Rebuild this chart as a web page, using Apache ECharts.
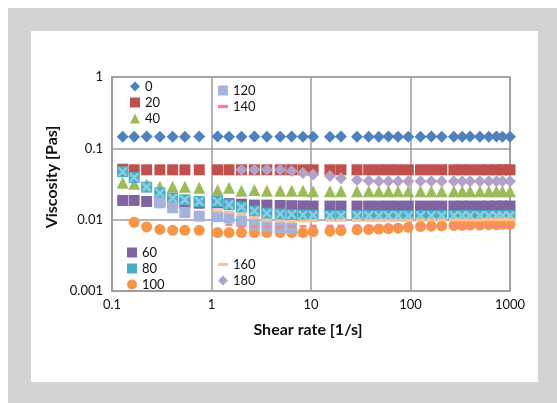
<!DOCTYPE html>
<html>
<head>
<meta charset="utf-8">
<script src="https://cdn.jsdelivr.net/npm/echarts@6/dist/echarts.min.js"></script>
<style>
  html, body { margin: 0; padding: 0; background: #ffffff; }
  #frame { position: absolute; left: 8px; top: 8px; width: 549px; height: 395px; background: #d3d3d5; }
  #inner { position: absolute; left: 31px; top: 31px; width: 507px; height: 351px; background: #ffffff; }
  #chart { position: absolute; left: 0; top: 0; width: 557px; height: 403px; }
</style>
</head>
<body>
<div id="frame"></div>
<div id="inner"></div>
<div id="chart"></div>
<script>
// Shear rate [1/s]
const shear = [0.128, 0.167, 0.223, 0.303, 0.407, 0.54, 0.753,
  1.15, 1.5, 2.0, 2.7, 3.6, 4.9, 6.4, 8.3,
  10.5, 15.5, 20, 29, 38, 48, 60, 75, 95,
  126, 162, 206, 273, 331, 397, 498, 612, 731, 839, 1000];

// Viscosity [Pas] per series (legend names)
const seriesNames = ['0', '20', '40', '60', '80', '100', '120', '140', '160', '180'];

const visc0 = [0.145,0.145,0.146,0.145,0.145,0.145,0.146,
  0.146,0.145,0.145,0.146,0.145,0.145,0.146,0.145,
  0.145,0.145,0.146,0.145,0.145,0.145,0.146,0.145,0.145,
  0.145,0.146,0.145,0.145,0.145,0.146,0.145,0.145,0.146,0.145,0.145];
const visc20 = [0.051,0.050,0.050,0.050,0.050,0.050,0.050,
  0.050,0.050,0.050,0.050,0.050,0.050,0.050,0.050,
  0.050,0.050,0.050,0.050,0.050,0.050,0.050,0.050,0.050,
  0.050,0.050,0.050,0.050,0.050,0.050,0.050,0.050,0.050,0.050,0.050];
const visc40 = [0.033,0.032,0.031,0.029,0.029,0.029,0.028,
  0.026,0.028,0.0255,0.026,0.0255,0.0255,0.0255,0.0255,
  0.025,0.025,0.025,0.025,0.025,0.025,0.025,0.025,0.025,
  0.025,0.025,0.025,0.025,0.025,0.025,0.025,0.025,0.025,0.025,0.025];
const visc60 = [0.0186,0.0186,0.018,0.018,0.0175,0.017,0.017,
  0.0172,0.0168,0.0165,0.016,0.016,0.0158,0.0157,0.0156,
  0.0155,0.0155,0.0155,0.0155,0.0155,0.0155,0.0155,0.0155,0.0155,
  0.0155,0.0155,0.0155,0.0155,0.0155,0.0155,0.0155,0.0155,0.0155,0.0155,0.0155];
const visc80 = [0.047,0.039,0.0286,0.0237,0.020,0.019,0.018,
  0.018,0.0162,0.0150,0.0132,0.0123,0.0120,0.0118,0.0116,
  0.0115,0.0114,0.0114,0.0114,0.0114,0.0114,0.0114,0.0114,0.0114,
  0.0114,0.0114,0.0114,0.0114,0.0114,0.0114,0.0114,0.0114,0.0114,0.0114,0.0114];
const visc100 = [null,0.0092,0.0079,0.0073,0.0071,0.0071,0.0071,
  0.0066,0.0066,0.0066,0.0066,0.0066,0.0066,0.0066,0.0066,
  0.0068,0.0069,0.0070,0.0072,0.0073,0.0074,0.0075,0.0076,0.0078,
  0.0080,0.0081,0.0082,0.0083,0.0083,0.0084,0.0084,0.0085,0.0085,0.0086,0.0086];
const visc120 = [null,null,null,0.0172,0.0147,0.0126,0.0112,
  0.0110,0.0106,0.0095,0.0085,0.0080,0.0078,0.0076,null,
  null,null,null,null,null,null,null,null,null,
  null,null,null,null,null,null,null,null,null,null,null];
const visc140 = [null,null,null,null,null,null,null,
  null,0.0085,0.0080,0.0080,0.0079,0.0079,0.0080,0.0081,
  0.0082,0.0082,0.0082,0.0082,0.0081,0.0081,0.0082,0.0082,0.0082,
  0.0082,0.0081,0.0081,0.0082,0.0082,0.0081,0.0081,0.0082,0.0082,0.0081,0.0081];
const visc160 = [null,null,null,null,null,null,null,
  0.0133,0.0127,0.0118,0.0106,0.0098,0.0096,0.0095,0.0096,
  0.0097,0.0098,0.0098,0.0098,0.0098,0.0098,0.0098,0.0098,0.0098,
  0.0099,0.0099,0.0099,0.0099,0.0099,0.0099,0.0099,0.0100,0.0100,0.0100,0.0100];
const visc180 = [null,null,null,null,null,null,null,
  null,null,0.050,0.050,0.050,0.050,0.048,0.045,
  0.043,0.041,0.038,0.036,0.035,0.0345,0.0345,0.0345,0.0345,
  0.0345,0.0345,0.0345,0.0345,0.0345,0.0345,0.0345,0.0345,0.0345,0.0345,0.0345];

const xTickLabels = ['0.1', '1', '10', '100', '1000'];
const yTickLabels = ['0.001', '0.01', '0.1', '1'];
const xTitle = 'Shear rate [1/s]';
const yTitle = 'Viscosity [Pas]';

const allValues = [visc0, visc20, visc40, visc60, visc80, visc100, visc120, visc140, visc160, visc180];

const styles = [
  { color: '#4f81bd', symbol: 'diamond', size: 12 },
  { color: '#c0504d', symbol: 'rect', size: 11 },
  { color: '#9bbb59', symbol: 'triangle', size: 12 },
  { color: '#8064a2', symbol: 'rect', size: 11 },
  { color: '#4bacc6', symbol: 'rect', size: 11 },
  { color: '#f79646', symbol: 'circle', size: 11 },
  { color: '#a4b3dc', symbol: 'rect', size: 11 },
  { color: '#f4858a', symbol: 'rect', size: [7, 2.5] },
  { color: '#fac090', symbol: 'rect', size: [10, 3] },
  { color: '#b3a2c7', symbol: 'diamond', size: 12 }
];

function pairs(vals) {
  const out = [];
  for (let i = 0; i < shear.length; i++) {
    if (vals[i] != null) out.push([shear[i], vals[i]]);
  }
  return out;
}

const series = seriesNames.map((name, i) => ({
  name: name,
  type: 'scatter',
  data: pairs(allValues[i]),
  symbol: styles[i].symbol,
  symbolSize: styles[i].size,
  itemStyle: { color: styles[i].color, opacity: 1 },
  emphasis: { disabled: true },
  z: 2 + i
}));

// light "X" pattern on the teal (80) markers, from the same data
const xMark = 'path://M0,0L2,0L10,8L10,10L8,10L0,2Z M8,0L10,0L10,2L2,10L0,10L0,8Z';
series.push({
  name: '80-pattern',
  type: 'scatter',
  data: pairs(visc80),
  symbol: xMark,
  symbolSize: 9,
  itemStyle: { color: '#8fd1e2', opacity: 0.9 },
  emphasis: { disabled: true },
  silent: true,
  z: 6.5
});

const fontFam = 'Lato, "Open Sans", sans-serif';
const legendText = { fontFamily: fontFam, fontSize: 13, color: '#111' };

function legendGroup(names, left, top, icons) {
  return {
    orient: 'vertical',
    left: left,
    top: top,
    itemWidth: 10,
    itemHeight: 10,
    itemGap: 3,
    padding: 0,
    symbolKeepAspect: true,
    textStyle: legendText,
    selectedMode: false,
    data: names.map(n => icons && icons[n] ? { name: n, icon: icons[n] } : n)
  };
}

const dashIcons = {
  '140': 'path://M0,0H6V2H0Z',
  '160': 'path://M0,0H10V3H0Z'
};

const chart = echarts.init(document.getElementById('chart'), null, { renderer: 'canvas' });
chart.setOption({
  animation: false,
  backgroundColor: 'transparent',
  grid: {
    left: 112, right: 47, top: 77, bottom: 112,
    show: true, borderColor: '#9c9c9c', borderWidth: 1.5
  },
  xAxis: {
    type: 'log', logBase: 10, min: 0.1, max: 1000,
    axisLine: { show: true, lineStyle: { color: '#9c9c9c', width: 1.5 } },
    axisTick: { show: false },
    minorTick: { show: false },
    splitLine: { show: true, lineStyle: { color: '#9c9c9c', width: 1.5 } },
    axisLabel: {
      fontFamily: fontFam, fontSize: 13, color: '#111', margin: 7,
      formatter: (v, idx) => xTickLabels[idx]
    }
  },
  yAxis: {
    type: 'log', logBase: 10, min: 0.001, max: 1,
    axisLine: { show: true, lineStyle: { color: '#9c9c9c', width: 1.5 } },
    axisTick: { show: false },
    minorTick: { show: false },
    splitLine: { show: true, lineStyle: { color: '#9c9c9c', width: 1.5 } },
    axisLabel: {
      fontFamily: fontFam, fontSize: 13, color: '#111', margin: 9,
      formatter: (v, idx) => yTickLabels[idx]
    }
  },
  legend: [
    legendGroup(['0', '20', '40'], 130, 80),
    legendGroup(['120', '140'], 218, 84, dashIcons),
    legendGroup(['60', '80', '100'], 127, 246),
    legendGroup(['160', '180'], 218, 258, dashIcons)
  ],
  graphic: [
    {
      type: 'text',
      style: { text: xTitle, x: 308, y: 330, align: 'center', verticalAlign: 'middle',
        font: 'bold 16px ' + fontFam, fill: '#111' }
    },
    {
      type: 'text', x: 52, y: 177, rotation: Math.PI / 2,
      style: { text: yTitle, x: 0, y: 0, align: 'center', verticalAlign: 'middle',
        font: 'bold 16px ' + fontFam, fill: '#111' }
    }
  ],
  series: series
});
</script>
</body>
</html>
